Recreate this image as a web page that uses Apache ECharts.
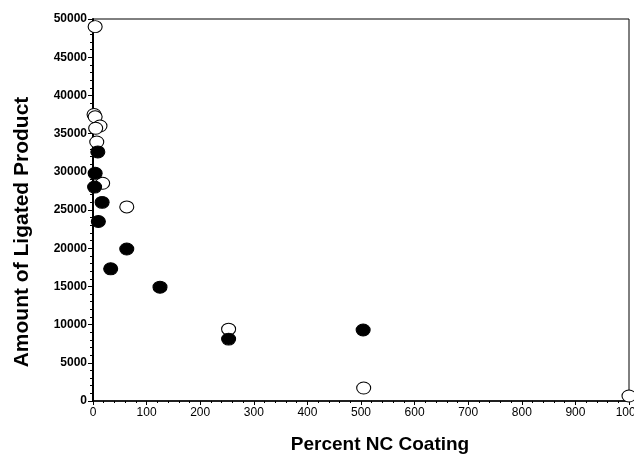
<!DOCTYPE html>
<html>
<head>
<meta charset="utf-8">
<script src="https://cdn.jsdelivr.net/npm/echarts@6/dist/echarts.min.js"></script>
<style>
  html, body { margin: 0; padding: 0; background: #fff; }
  #chart { width: 634px; height: 455px; }
</style>
</head>
<body>
<div id="chart"></div>
<script>
// open circles
let openX = [4, 2, 4, 13, 5, 7, 18, 63, 253, 505, 1000];
let openY = [49000, 37500, 37200, 36000, 35700, 33900, 28500, 25400, 9400, 1700, 650];
// filled circles
let filledX = [9, 4, 3, 17, 10, 63, 33, 125, 253, 504];
let filledY = [32600, 29800, 28000, 26000, 23500, 19900, 17300, 14900, 8100, 9300];

let pairs = function(xs, ys){
    return xs.map((x, i) => [x, ys[i]]);
};

let chart = echarts.init(document.getElementById('chart'));
let font = 'Liberation Sans, Arial, sans-serif';

let option = {
    animation: false,
    grid: {
        left: 93, right: 5, top: 19, bottom: 54,
        outerBoundsMode: 'none',
        containLabel: false,
        show: true, borderColor: '#000', borderWidth: 1
    },
    xAxis: {
        type: 'value',
        min: 0, max: 1000, interval: 100,
        name: 'Percent NC Coating',
        nameLocation: 'middle',
        nameGap: 34,
        nameTextStyle: { fontFamily: font, fontSize: 19, fontWeight: 'bold', color: '#000', padding: [0, 0, 0, 38] },
        axisLine: { lineStyle: { color: '#000', width: 1.5 } },
        axisTick: { length: 4, lineStyle: { color: '#000' } },
        minorTick: { show: true, splitNumber: 5, length: 2, lineStyle: { color: '#000' } },
        axisLabel: { fontFamily: font, fontSize: 12, color: '#000', margin: 6, formatter: v => String(v) },
        splitLine: { show: false }
    },
    yAxis: {
        type: 'value',
        min: 0, max: 50000, interval: 5000,
        name: 'Amount of Ligated Product',
        nameLocation: 'middle',
        nameGap: 60,
        nameTextStyle: { fontFamily: font, fontSize: 21, fontWeight: 'bold', color: '#000', padding: [0, 44, 0, 0] },
        axisLine: { lineStyle: { color: '#000', width: 2 } },
        axisTick: { length: 5, lineStyle: { color: '#000' } },
        minorTick: { show: true, splitNumber: 5, length: 3, lineStyle: { color: '#000' } },
        axisLabel: { fontFamily: font, fontSize: 12, fontWeight: 'bold', color: '#000', margin: 6, formatter: v => String(v) },
        splitLine: { show: false }
    },
    series: [
        {
            name: 'open',
            type: 'scatter',
            symbol: 'circle',
            symbolSize: [14, 12],
            itemStyle: { color: '#fff', borderColor: '#000', borderWidth: 1, opacity: 1 },
            data: pairs(openX, openY)
        },
        {
            name: 'filled',
            type: 'scatter',
            symbol: 'circle',
            symbolSize: [14, 12],
            itemStyle: { color: '#000', borderColor: '#000', borderWidth: 1, opacity: 1 },
            data: pairs(filledX, filledY)
        }
    ]
};
chart.setOption(option);
</script>
</body>
</html>
